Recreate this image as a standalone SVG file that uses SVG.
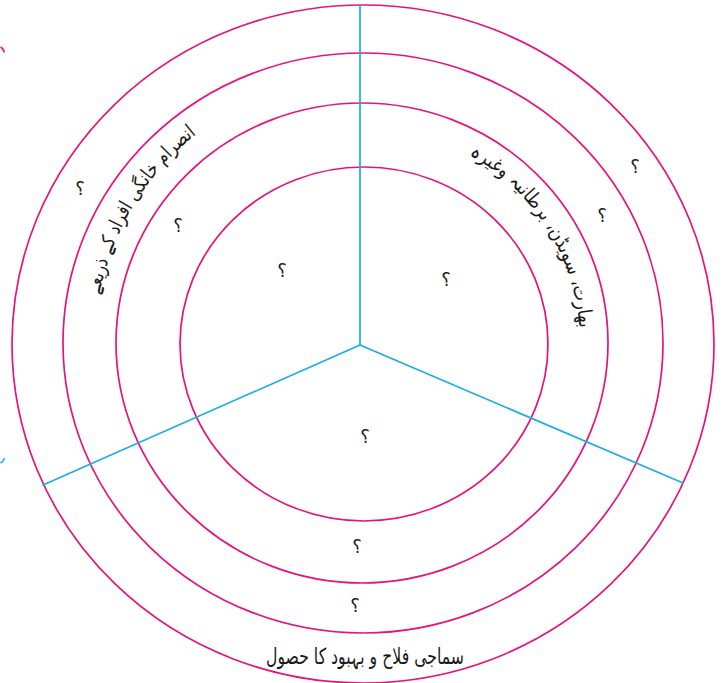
<svg xmlns="http://www.w3.org/2000/svg" width="728" height="683" viewBox="0 0 728 683">
  <style>
    .ring { fill: none; stroke: #e5137f; stroke-width: 1.7; }
    .div { fill: none; stroke: #1aaee6; stroke-width: 1.7; stroke-linecap: round; }
    .lbl { font-family: "DejaVu Sans", "Noto Sans", sans-serif; font-size: 20px; fill: #1a1a1a; }
    .q { font-family: "DejaVu Sans", "Noto Sans", sans-serif; font-size: 18px; fill: #222; text-anchor: middle; }
  </style>
  <defs>
    <path id="arcLeft" d="M113.7,442.2 A268,268 0 0 1 332.7,77.7"/>
    <path id="arcRight" d="M381.9,127.8 A217,217 0 0 1 566.9,418.2"/>
  </defs>
  <rect width="728" height="683" fill="#ffffff"/>
  <g id="rings">
    <ellipse id="ring1" class="ring" cx="363" cy="344" rx="351" ry="339"/>
    <ellipse id="ring2" class="ring" cx="363" cy="343" rx="300" ry="290"/>
    <ellipse id="ring3" class="ring" cx="362" cy="343" rx="246" ry="240"/>
    <ellipse id="ring4" class="ring" cx="364" cy="344" rx="184" ry="177"/>
  </g>
  <g id="connectors">
    <line class="div" x1="360" y1="345" x2="360" y2="5"/>
    <line class="div" x1="360" y1="345" x2="43" y2="485"/>
    <line class="div" x1="360" y1="345" x2="683" y2="483"/>
  </g>
  <g id="fragments">
    <path d="M0.5,47 q2.5,1 4,5.5" fill="none" stroke="#e5137f" stroke-width="1.5"/>
    <path d="M0.5,463 q2.5,-1 4,-5" fill="none" stroke="#1aaee6" stroke-width="1.5"/>
  </g>
  <g id="label-left">
    <text class="lbl"><textPath href="#arcLeft" startOffset="50%" text-anchor="middle" textLength="192" lengthAdjust="spacingAndGlyphs">انصرام خانگی افراد کے ذریعے</textPath></text>
  </g>
  <g id="label-right">
    <text class="lbl"><textPath href="#arcRight" startOffset="50%" text-anchor="middle" textLength="214" lengthAdjust="spacingAndGlyphs">بھارت، سویڈن، برطانیہ وغیرہ</textPath></text>
  </g>
  <g id="label-bottom">
    <text class="lbl" x="365" y="664" text-anchor="middle" style="font-size:22px" textLength="198" lengthAdjust="spacingAndGlyphs">سماجی فلاح و بہبود کا حصول</text>
  </g>
  <g id="questions">
    <text class="q" x="635" y="173">؟</text>
    <text class="q" x="602" y="222">؟</text>
    <text class="q" x="446" y="286">؟</text>
    <text class="q" x="80" y="195">؟</text>
    <text class="q" x="178" y="232">؟</text>
    <text class="q" x="282" y="277">؟</text>
    <text class="q" x="365" y="443">؟</text>
    <text class="q" x="357" y="553">؟</text>
    <text class="q" x="355" y="612">؟</text>
  </g>
</svg>
